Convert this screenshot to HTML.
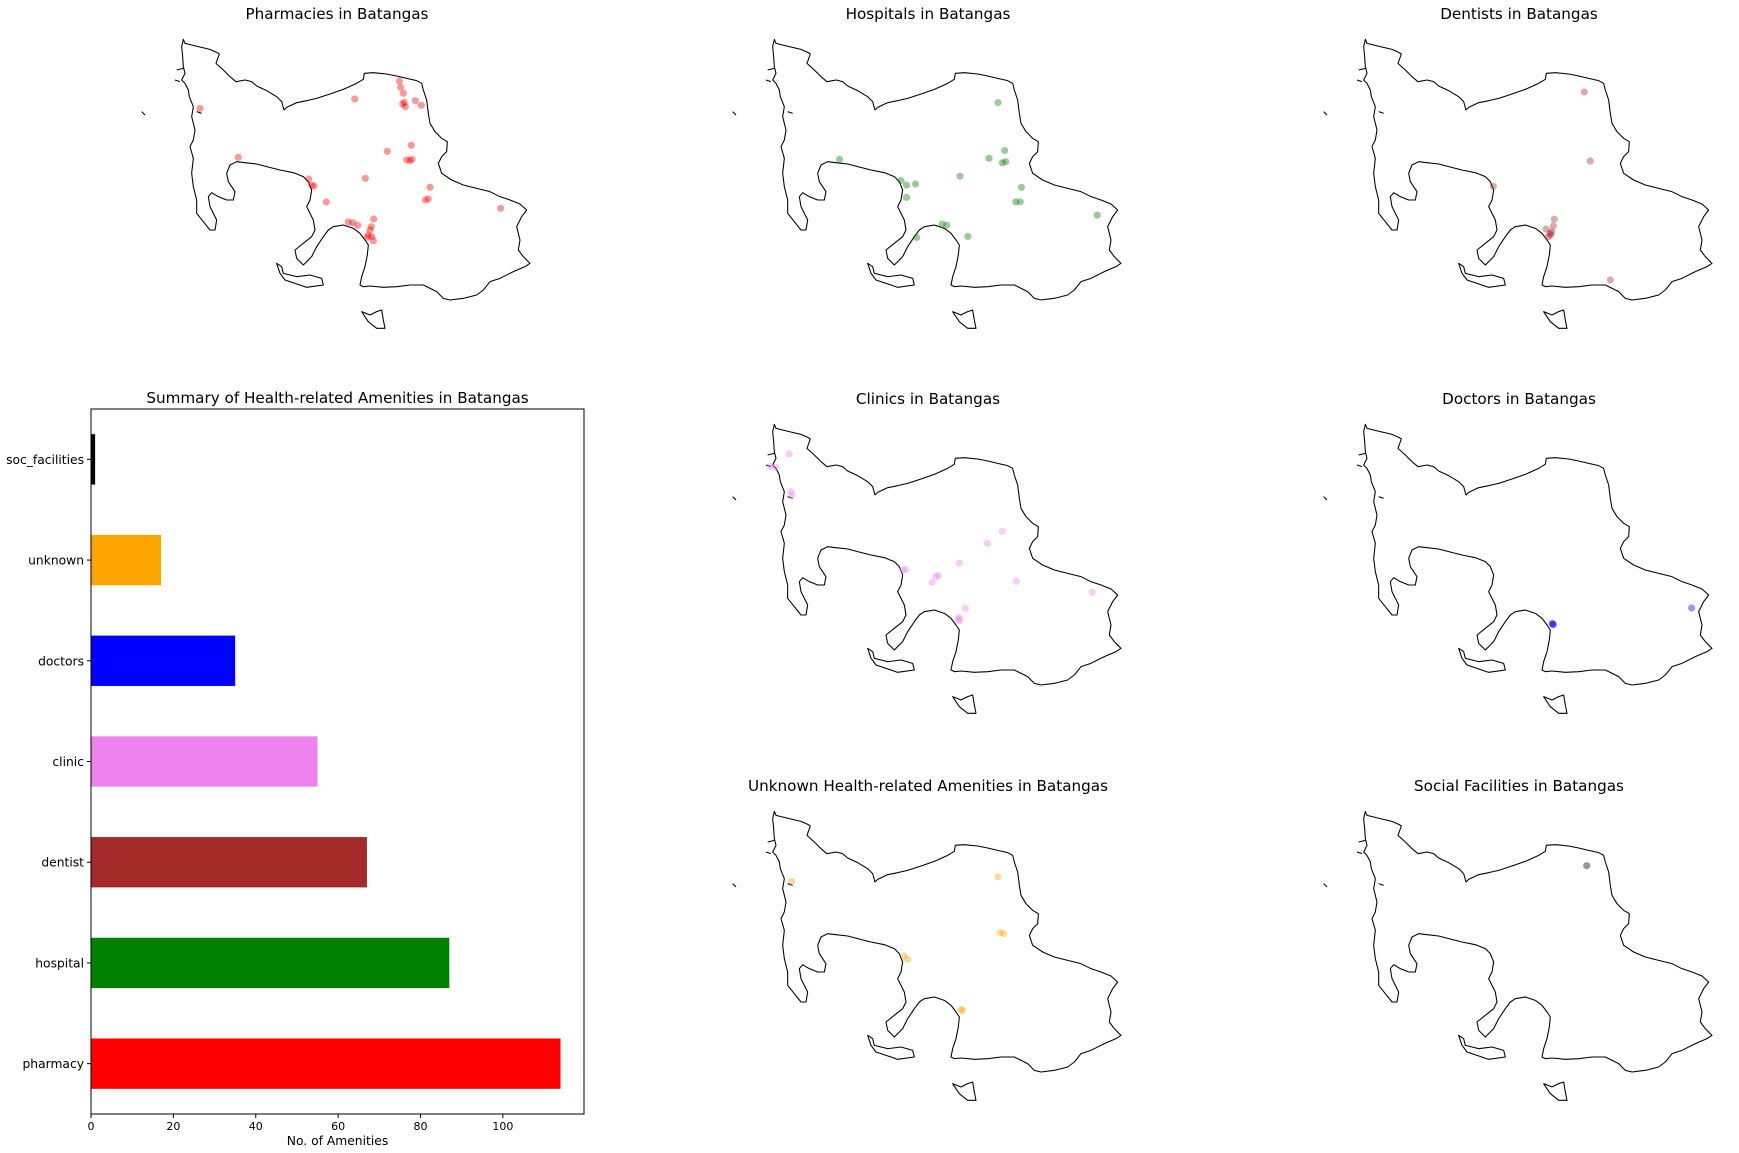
<!DOCTYPE html>
<html><head><meta charset="utf-8"><style>
body{margin:0;background:#fff}
svg{display:block;font-family:"DejaVu Sans","Liberation Sans",sans-serif}
</style></head><body>
<svg id="fig" width="1739" height="1153" viewBox="0 0 1739 1153">
<defs>
<g id="outline">
<g transform="translate(130,0) scale(0.33333)" fill="none" stroke="#000" stroke-width="3.2" stroke-linejoin="round">
<path d="M160,118 L165,130 185,135 205,140 240,148 262,158 268,162 258,190 280,210 300,230 318,245 345,240 365,245 380,258 410,272 440,290 455,305 462,330 470,322 500,308 530,302 560,295 600,282 640,268 680,250 700,238 703,220 730,218 770,222 800,228 830,235 860,242 875,250 880,270 890,300 895,340 900,370 915,395 935,415 952,425 950,455 935,470 925,490 935,520 965,540 1000,555 1040,565 1080,575 1110,590 1140,600 1170,612 1190,630 1175,650 1160,680 1170,720 1165,750 1180,770 1200,790 1185,800 1150,815 1110,835 1080,845 1060,870 1040,885 1000,895 960,900 940,895 920,875 890,860 880,855 840,855 800,860 760,862 720,858 700,860 690,855 695,830 705,800 712,765 715,735 705,720 690,700 670,685 640,675 610,680 595,690 580,710 560,740 545,770 520,795 500,775 495,750 520,730 545,710 555,690 550,660 540,640 530,620 540,600 545,570 535,545 520,530 490,518 450,510 410,500 380,492 345,488 320,485 300,495 290,520 295,545 315,575 310,600 290,600 265,590 245,578 235,590 240,620 260,660 255,690 240,690 220,665 200,640 200,600 190,560 185,520 190,475 180,440 190,420 195,390 185,350 190,320 178,290 175,270 165,250 155,240 165,220 160,200 158,170 155,140 Z"/>
<path d="M440,790 L455,800 460,820 500,830 540,825 575,835 580,855 530,862 495,850 465,840 450,820 Z"/>
<path d="M695,935 L720,945 740,935 755,930 760,960 765,985 740,985 715,965 Z"/>
<path d="M35,335 L45,345"/>
<path d="M140,210 L160,205 M135,240 L150,245 M200,335 L215,340"/>
</g>
</g>
</defs>
<g id="maps"></g>
<g id="bars"></g>
</svg>
<script>
// map point data (local map frame coordinates)
const pharmacyX=[399.3,400.7,403.3,404.3,405.3,402.7,415.3,421.3,354.7,200,238.3,387.3,411.3,406.7,410,412,365.3,308.7,311.7,314,326.3,430,425.3,428.3,500.7,348.3,352.7,357.7,373.7,370,368.3,367.3,371.7,373.3,371.3];
const pharmacyY=[81,87.3,93.3,102.3,106.7,104,100.7,105.3,99,108.3,157.3,151.3,145.3,160,160.7,159.3,178.3,179,185.3,186,202,187.3,200,199,208.3,222,222.7,225.3,219,230,235,237.3,236.7,240.7,226.7];
const hospitalX=[407,413.7,398,411.4,414.8,369,430.4,424.8,429.3,506.2,248.6,310,315.5,324.5,315.5,325.6,351.2,355.7,376.9];
const hospitalY=[102.6,150.5,158.3,162.8,161.7,176.2,187.3,201.8,201.8,215.2,159.4,180.6,185.1,184,197.4,237.5,224.1,225.2,236.4];
const dentistX=[402.3,408.3,311.3,372.3,371.3,364,368,369.7,366.3,368.7,428.3];
const dentistY=[92,161,186.3,219.3,226,229,233.3,231.7,236.7,235,280];
const clinicX=[198.3,179.7,185,200,200.7,411.3,396.3,368.3,312.3,314.7,345,347.3,341.3,425.3,501.3,374.3,368,368.7,367.3];
const clinicY=[69,81.7,82.3,106.7,110,146.3,158.3,178.3,185,184.3,191.7,190.3,197.3,196.3,207.3,223.3,232.3,235.7,234.3];
const doctorX=[370.2,371.3,370.8,509.6];
const doctorY=[238.6,239.7,239,223];
const unknownX=[200.7,407,409.2,412.6,313.3,316.7,370.2,371.3];
const unknownY=[109.3,104.8,160.6,161.7,184,187.3,237.5,238.6];
const socialX=[404.7];
const socialY=[93.7];

// bar chart data
const categories=["pharmacy","hospital","dentist","clinic","doctors","unknown","soc_facilities"];
const counts=[114,87,67,55,35,17,1];
const barColors=["#ff0000","#008000","#a52a2a","#ee82ee","#0000ff","#ffa500","#000000"];
const xTicks=[0,20,40,60,80,100];

const NS="http://www.w3.org/2000/svg";
function mk(tag,attrs,parent){const e=document.createElementNS(NS,tag);for(const k in attrs)e.setAttribute(k,attrs[k]);parent.appendChild(e);return e;}

const maps=[
 {name:"pharmacies",title:"Pharmacies in Batangas",ox:0,oy:0,xs:pharmacyX,ys:pharmacyY,color:"#ff0000",a:0.4},
 {name:"hospitals",title:"Hospitals in Batangas",ox:591,oy:0,xs:hospitalX,ys:hospitalY,color:"#008000",a:0.4},
 {name:"dentists",title:"Dentists in Batangas",ox:1182,oy:0,xs:dentistX,ys:dentistY,color:"#a52a2a",a:0.4},
 {name:"clinics",title:"Clinics in Batangas",ox:591,oy:385,xs:clinicX,ys:clinicY,color:"#ee82ee",a:0.4},
 {name:"doctors",title:"Doctors in Batangas",ox:1182,oy:385,xs:doctorX,ys:doctorY,color:"#0000ff",a:0.4},
 {name:"unknown",title:"Unknown Health-related Amenities in Batangas",ox:591,oy:772,xs:unknownX,ys:unknownY,color:"#ffa500",a:0.4},
 {name:"social-facilities",title:"Social Facilities in Batangas",ox:1182,oy:772,xs:socialX,ys:socialY,color:"#000000",a:0.4}
];
const mapsG=document.getElementById("maps");
maps.forEach(m=>{
 const g=mk("g",{transform:`translate(${m.ox},${m.oy})`},mapsG);
 
 
 const t=mk("text",{x:337,y:19,"text-anchor":"middle","font-size":"15.2"},g);
 t.textContent=m.title;
 
 
 const u=mk("use",{href:"#outline"},g);
 
 
 m.xs.forEach((x,i)=>{
  const c=mk("circle",{cx:x,cy:m.ys[i],r:3.6,fill:m.color,"fill-opacity":m.a},g);
  
  
 });
});

// bar chart
const bg=document.getElementById("bars");
const L=91,R=584,T=409,B=1114,xmax=119.7;
const xs=v=>L+v/xmax*(R-L);
const band=(B-T)/categories.length;
const yc=i=>B-(i+0.5)*band;
const ttl=mk("text",{x:(L+R)/2,y:T-6,"text-anchor":"middle","font-size":"15.2"},bg);
ttl.textContent="Summary of Health-related Amenities in Batangas";


categories.forEach((c,i)=>{
 const r=mk("rect",{x:L,y:yc(i)-band*0.25,width:xs(counts[i])-L,height:band*0.5,fill:barColors[i]},bg);
 
 
 mk("line",{x1:L-4,x2:L,y1:yc(i),y2:yc(i),stroke:"#000","stroke-width":1},bg);
 const t=mk("text",{x:L-7,y:yc(i)+4.5,"text-anchor":"end","font-size":"12.3"},bg);
 t.textContent=c;
 
 
});
xTicks.forEach(v=>{
 mk("line",{x1:xs(v),x2:xs(v),y1:B,y2:B+4,stroke:"#000","stroke-width":1},bg);
 const t=mk("text",{x:xs(v),y:B+16,"text-anchor":"middle","font-size":"11"},bg);
 t.textContent=v;
 
 
});
const fr=mk("rect",{x:L,y:T,width:R-L,height:B-T,fill:"none",stroke:"#000","stroke-width":1},bg);


const xl=mk("text",{x:(L+R)/2,y:1145,"text-anchor":"middle","font-size":"12.3"},bg);
xl.textContent="No. of Amenities";


</script>
</body></html>
